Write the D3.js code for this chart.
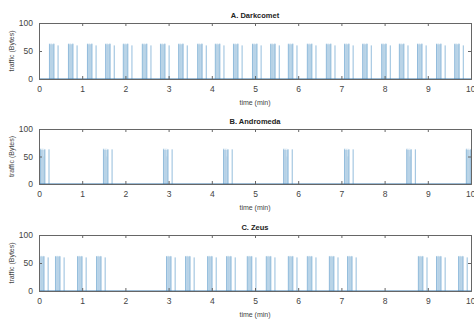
<!DOCTYPE html>
<html><head><meta charset="utf-8">
<script src="https://cdn.jsdelivr.net/npm/d3@7"></script>
<style>body{margin:0;background:#fff}svg{display:block}text{font-family:"Liberation Sans",Arial,sans-serif}</style>
</head><body>
<svg id="c" width="474" height="322"></svg>
<script>
// panel titles
const titles = ["A. Darkcomet", "B. Andromeda", "C. Zeus"];
// burst start times (min)
const burstsA = [0.23,0.67,1.11,1.53,1.94,2.38,2.80,3.22,3.66,4.07,4.49,4.93,5.35,5.76,6.20,6.64,7.06,7.48,7.92,8.33,8.75,9.19,9.61];
const burstsB = [0.02,1.48,2.87,4.26,5.65,7.06,8.50,9.88];
const burstsC = [0.00,0.37,0.88,1.32,2.94,3.38,3.89,4.33,4.81,5.25,5.76,6.20,6.71,7.13,8.77,9.19,9.70];
// packet shape inside a burst: offsets (min) and traffic (bytes)
const shapeOffsets = [0,0.015,0.03,0.045,0.06,0.075,0.09,0.105,0.2];
const shapeValuesA = [63,64,62,64,63,62,64,63,60];
const shapeValuesB = [64,65,63,64,65,50,64,63,63];
const shapeValuesC = [62,63,61,63,62,61,63,62,60];
const xTicks = [0,1,2,3,4,5,6,7,8,9,10];
const yTicks = [0,50,100];

const svg = d3.select("#c");
const panels = [
  {title:titles[0], bursts:burstsA, vals:shapeValuesA, top:23, bottom:79},
  {title:titles[1], bursts:burstsB, vals:shapeValuesB, top:129, bottom:184},
  {title:titles[2], bursts:burstsC, vals:shapeValuesC, top:235, bottom:291}
];
const x = d3.scaleLinear().domain([0,10]).range([39,471]);
const axisCol = "#666";
const txtCol = "#444";

panels.forEach(p => {
  const y = d3.scaleLinear().domain([0,100]).range([p.bottom,p.top]);
  const g = svg.append("g");
  const spikes = [];
  p.bursts.forEach(b => shapeOffsets.forEach((o,i) => {
    const t = b + o;
    if (t <= 10) spikes.push({t, v:p.vals[i], i});
  }));
  g.selectAll("rect.blk").data(p.bursts).join("rect")
    .attr("x", d => x(d)).attr("y", d => y(62))
    .attr("width", d => Math.max(0, Math.min(x(d+0.11), x(10)) - x(d)))
    .attr("height", y(0)-y(62))
    .attr("fill", "#d6e6f2");
  const n = shapeOffsets.length;
  g.selectAll("line.sp").data(spikes).join("line")
    .attr("x1", d => x(d.t)+0.5).attr("x2", d => x(d.t)+0.5)
    .attr("y1", y(0)).attr("y2", d => y(d.v))
    .attr("stroke", "#3d86c0").attr("stroke-width", 1)
    .attr("stroke-opacity", d => (d.i === n-1 || d.i === n-2) ? 0.55 : (d.i === 0 ? 0.4 : 0.12));
  g.append("line").attr("x1", x(0)).attr("x2", x(10)).attr("y1", y(0)).attr("y2", y(0))
    .attr("stroke", "#3a76a8").attr("stroke-width", 1);

  const ax = g.append("g").attr("transform", `translate(0,${p.bottom})`)
    .call(d3.axisBottom(x).tickValues(xTicks).tickSize(-3).tickPadding(7).tickFormat(d3.format("d")));
  const axT = g.append("g").attr("transform", `translate(0,${p.top})`)
    .call(d3.axisTop(x).tickValues(xTicks).tickSize(-3).tickFormat(""));
  const ay = g.append("g").attr("transform", `translate(${x(0)},0)`)
    .call(d3.axisLeft(y).tickValues(yTicks).tickSize(-3).tickPadding(6));
  const ayR = g.append("g").attr("transform", `translate(${x(10)},0)`)
    .call(d3.axisRight(y).tickValues(yTicks).tickSize(-3).tickFormat(""));
  [ax,axT,ay,ayR].forEach(a => {
    a.select(".domain").attr("stroke", axisCol);
    a.selectAll(".tick line").attr("stroke", axisCol);
    a.selectAll("text").attr("fill", txtCol).style("font-size", "8.5px");
  });
  ax.selectAll(".tick text").filter(d => d === 10).attr("text-anchor", "end").attr("dx", "4px");
  g.append("text").attr("x", (x(0)+x(10))/2).attr("y", p.top-5)
    .attr("text-anchor","middle").style("font-size","7.5px").style("font-weight","bold")
    .attr("fill","#222").text(p.title);
  g.append("text").attr("x", (x(0)+x(10))/2).attr("y", p.bottom+26)
    .attr("text-anchor","middle").style("font-size","7px").attr("fill",txtCol).text("time (min)");
  g.append("text").attr("transform", `translate(14,${(p.top+p.bottom)/2}) rotate(-90)`)
    .attr("text-anchor","middle").style("font-size","7px").attr("fill",txtCol).text("traffic (Bytes)");
});
</script>
</body></html>
